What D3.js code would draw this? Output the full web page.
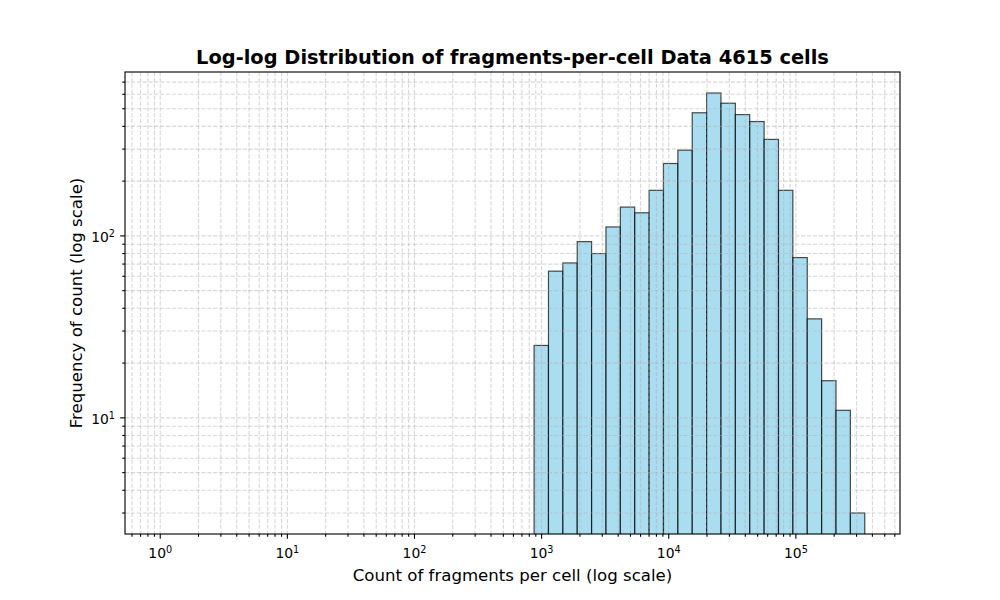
<!DOCTYPE html>
<html><head><meta charset="utf-8">
<script src="https://cdn.jsdelivr.net/npm/d3@7"></script>
<style>body{margin:0;background:#fff}svg{display:block;font-family:"DejaVu Sans",sans-serif}</style>
</head><body><svg id="c" width="1000" height="600"></svg>
<script>
// Histogram bin edges (log-spaced) for non-empty bins
const binEdges = [872.4, 1132, 1468.6, 1905.5, 2472.3, 3207.6, 4161.7, 5399.7, 7005.8, 9089.6, 11793, 15301, 19853, 25758, 33420, 43361, 56258, 72993, 94704, 122873, 159421, 206840, 268364, 348337];
// Counts per bin
const counts = [25, 64, 71, 93, 80, 112, 144, 134, 178, 250, 296, 475, 610, 536, 464, 425, 339, 178, 76, 35, 16, 11, 3];
const histStart = 1; // first bin edge of the histogram range
const xTickExps = [0, 1, 2, 3, 4, 5];
const yTickExps = [1, 2];
const titleText = "Log-log Distribution of fragments-per-cell Data 4615 cells";
const xLabelText = "Count of fragments per cell (log scale)";
const yLabelText = "Frequency of count (log scale)";

const svg = d3.select("#c");
const L = 125, R = 900, T = 72, B = 534;
const LW = 0.8 * 100 / 72;

const lx0 = Math.log10(histStart), lx1 = Math.log10(binEdges[binEdges.length-1]);
const mx = (lx1 - lx0) * 0.05;
const x = d3.scaleLog().domain([Math.pow(10, lx0 - mx), Math.pow(10, lx1 + mx)]).range([L, R]);
const ly0 = Math.log10(d3.min(counts)), ly1 = Math.log10(d3.max(counts));
const my = (ly1 - ly0) * 0.05;
const y = d3.scaleLog().domain([Math.pow(10, ly0 - my), Math.pow(10, ly1 + my)]).range([B, T]);

const bars = counts.map((c, i) => ({x0: binEdges[i], x1: binEdges[i+1], c}));

svg.append("clipPath").attr("id", "clp").append("rect").attr("x", L).attr("y", T).attr("width", R-L).attr("height", B-T);

const g = svg.append("g").attr("clip-path", "url(#clp)");
g.selectAll("rect.bar").data(bars).join("rect").attr("class", "bar")
  .attr("x", d => x(d.x0)).attr("width", d => x(d.x1) - x(d.x0))
  .attr("y", d => y(d.c)).attr("height", d => B + 5 - y(d.c))
  .attr("fill", "rgba(135,206,235,0.7)").attr("stroke", "rgba(0,0,0,0.7)").attr("stroke-width", 1.2);

const xd = x.domain(), yd = y.domain();
function logTicks(d) {
  const major = [], minor = [];
  for (let e = Math.floor(Math.log10(d[0])); e <= Math.ceil(Math.log10(d[1])); e++) {
    for (let m = 1; m <= 9; m++) {
      const v = m * Math.pow(10, e);
      if (v >= d[0] && v <= d[1]) (m === 1 ? major : minor).push(v);
    }
  }
  return {major, minor};
}
const xt = logTicks(xd), yt = logTicks(yd);
const gridG = g.append("g").attr("stroke", "#b0b0b0").attr("stroke-opacity", 0.5).attr("stroke-width", LW).attr("stroke-dasharray", "4.1,1.78");
xt.major.concat(xt.minor).forEach(v => gridG.append("line").attr("x1", x(v)).attr("x2", x(v)).attr("y1", T).attr("y2", B));
yt.major.concat(yt.minor).forEach(v => gridG.append("line").attr("y1", y(v)).attr("y2", y(v)).attr("x1", L).attr("x2", R));

const ax = svg.append("g").attr("stroke", "#000").attr("stroke-width", LW);
const MAJ = 3.5 * 100 / 72, MIN = 2 * 100 / 72;
xt.major.forEach(v => ax.append("line").attr("x1", x(v)).attr("x2", x(v)).attr("y1", B).attr("y2", B + MAJ));
xt.minor.forEach(v => ax.append("line").attr("x1", x(v)).attr("x2", x(v)).attr("y1", B).attr("y2", B + MIN));
yt.major.forEach(v => ax.append("line").attr("y1", y(v)).attr("y2", y(v)).attr("x1", L).attr("x2", L - MAJ));
yt.minor.forEach(v => ax.append("line").attr("y1", y(v)).attr("y2", y(v)).attr("x1", L).attr("x2", L - MIN));
svg.append("rect").attr("x", L).attr("y", T).attr("width", R-L).attr("height", B-T).attr("fill", "none").attr("stroke", "#000").attr("stroke-width", LW);

function powLabel(sel, e) {
  sel.append("tspan").text("10");
  sel.append("tspan").attr("dy", -4.5).attr("font-size", "9.7px").text(e);
}
xTickExps.forEach(e => {
  const t = svg.append("text").attr("x", x(Math.pow(10, e))).attr("y", 557.5).attr("text-anchor", "middle").attr("font-size", "13.9px").attr("fill", "#000");
  powLabel(t, e);
});
yTickExps.forEach(e => {
  const t = svg.append("text").attr("x", 115).attr("y", y(Math.pow(10, e)) + 6).attr("text-anchor", "end").attr("font-size", "13.9px").attr("fill", "#000");
  powLabel(t, e);
});

svg.append("text").attr("x", (L+R)/2).attr("y", 64).attr("text-anchor", "middle").attr("font-size", "19.4px").attr("font-weight", "bold").text(titleText);
svg.append("text").attr("x", (L+R)/2).attr("y", 581).attr("text-anchor", "middle").attr("font-size", "16.6px").text(xLabelText);
svg.append("text").attr("transform", `translate(82,${(T+B)/2}) rotate(-90)`).attr("text-anchor", "middle").attr("font-size", "16.6px").text(yLabelText);
</script></body></html>
